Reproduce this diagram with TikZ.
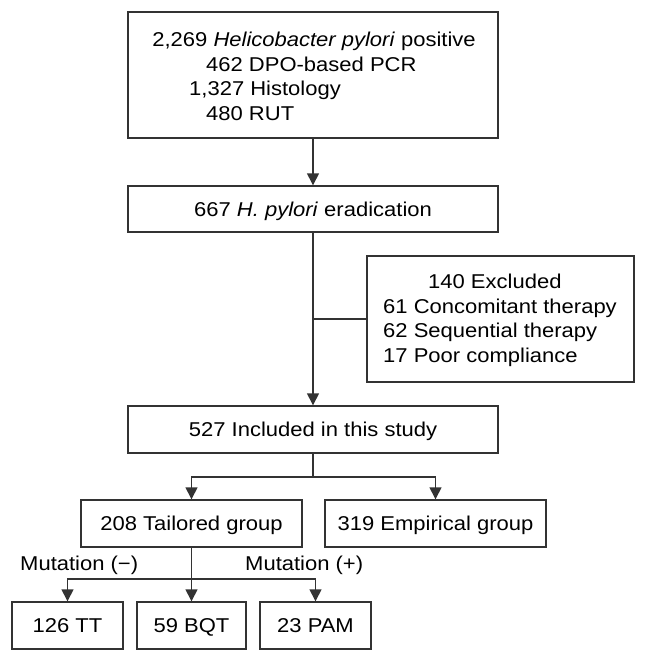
\documentclass[tikz,border=0pt]{standalone}
\usepackage{fontspec}
\setmainfont[FakeStretch=1.1]{Liberation Sans}
\usetikzlibrary{arrows.meta}
\begin{document}
\begin{tikzpicture}[x=1pt,y=-1pt,
  box/.style={draw=black!80, line width=1.4pt, inner sep=0pt, font=\fontsize{20}{24.5}\selectfont, text height=14.3pt, text depth=0pt},
  txt/.style={inner sep=0pt, font=\fontsize{20}{24.5}\selectfont},
  conn/.style={draw=black!80, line width=1.4pt},
  arr/.style={conn, -{Triangle[length=12pt,width=12pt]}}]
\useasboundingbox (0,0) rectangle (647,663);
\fill[white] (0,0) rectangle (647,663);
% boxes
\node[box, minimum width=370pt, minimum height=126pt] (top) at (313,75) {};
\node[txt, anchor=base] (t1) at (314,47) {2,269 \textit{Helicobacter pylori} positive};
\node[txt, anchor=base west] (t2) at (206,71.5) {462 DPO-based PCR};
\node[txt, anchor=base west] (t3) at (189,96) {1,327 Histology};
\node[txt, anchor=base west] (t4) at (206,120.5) {480 RUT};
\node[box, minimum width=370pt, minimum height=46pt] (erad) at (313,209) {667 \textit{H. pylori} eradication};
\node[box, minimum width=267pt, minimum height=126pt] (excl) at (500.5,319) {};
\node[txt, anchor=base west] (e1) at (428,288.5) {140 Excluded};
\node[txt, anchor=base west] (e2) at (383,313) {61 Concomitant therapy};
\node[txt, anchor=base west] (e3) at (383,337.5) {62 Sequential therapy};
\node[txt, anchor=base west] (e4) at (383,362) {17 Poor compliance};
\node[box, minimum width=370pt, minimum height=47pt] (incl) at (313,429.5) {527 Included in this study};
\node[box, minimum width=221pt, minimum height=47pt] (tail) at (191.5,523.5) {208 Tailored group};
\node[box, minimum width=221pt, minimum height=47pt] (emp) at (435.5,523.5) {319 Empirical group};
\node[box, minimum width=111pt, minimum height=47pt] (tt) at (67.5,625.5) {126 TT};
\node[box, minimum width=109pt, minimum height=47pt] (bqt) at (191.5,625.5) {59 BQT};
\node[box, minimum width=111pt, minimum height=47pt] (pam) at (315.5,625.5) {23 PAM};
\node[txt, anchor=base west] (mneg) at (20,570) {Mutation (−)};
\node[txt, anchor=base west] (mpos) at (245,570) {Mutation (+)};
% connectors
\draw[arr] (top.south) -- (erad.north);
\draw[arr] (erad.south) -- (incl.north);
\draw[conn] (erad.south |- excl.west) -- (excl.west);
\coordinate (j2) at (313,477);
\draw[conn] (incl.south) -- (j2);
\draw[arr] (j2) -| (tail.north);
\draw[arr] (j2) -| (emp.north);
\coordinate (j3) at (191.5,579);
\draw[arr] (tail.south) -- (bqt.north);
\draw[arr] (j3) -| (tt.north);
\draw[arr] (j3) -| (pam.north);
\end{tikzpicture}
\end{document}
